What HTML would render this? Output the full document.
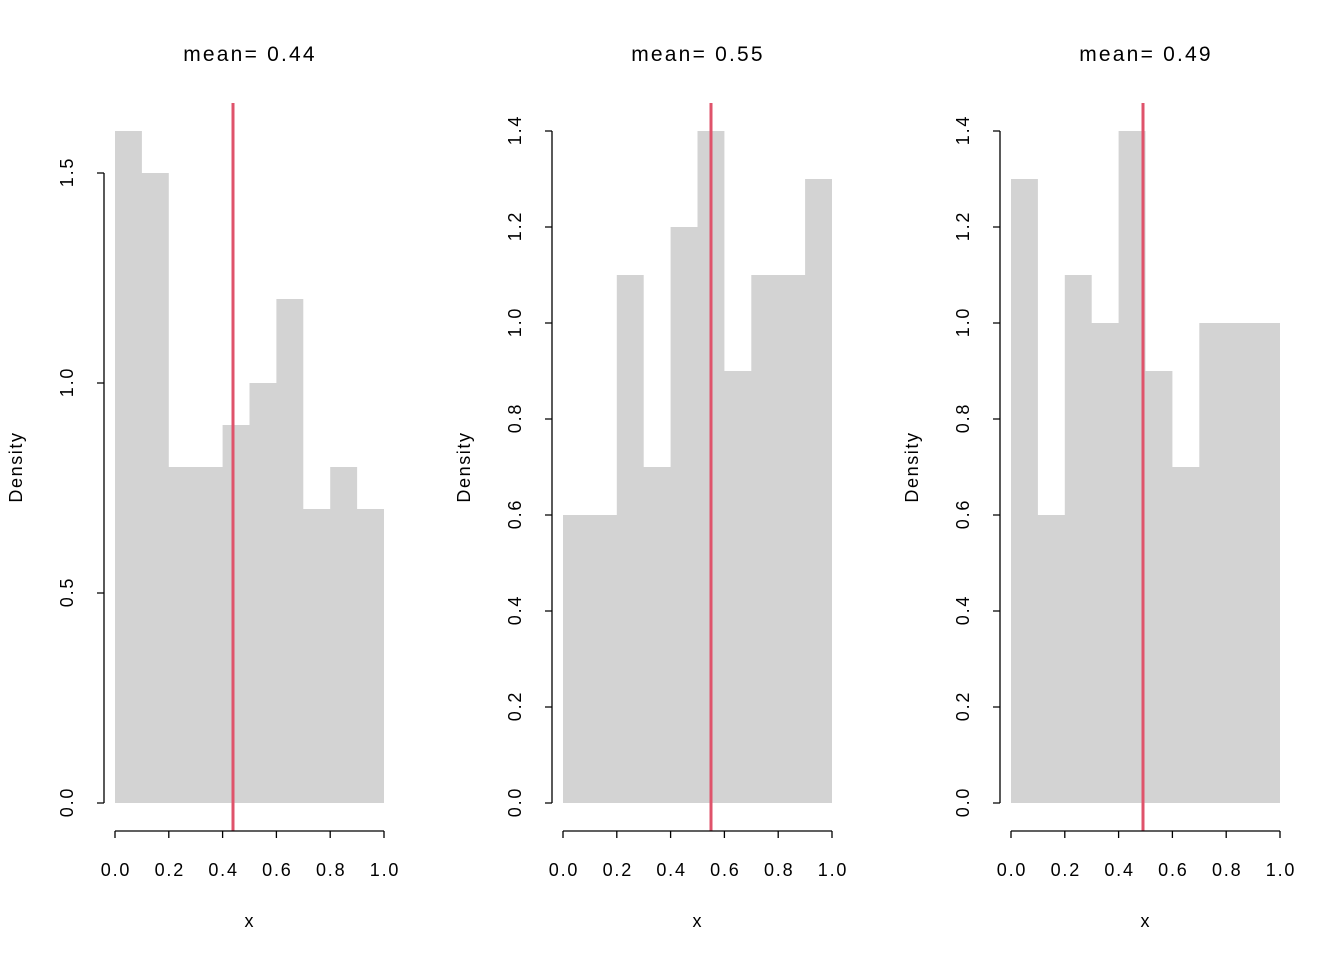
<!DOCTYPE html>
<html><head><meta charset="utf-8"><style>body{margin:0;background:#fff}svg{display:block}text{font-family:"Liberation Sans",Arial,sans-serif;fill:#000}</style></head><body>
<svg width="1344" height="960" viewBox="0 0 1344 960" xmlns="http://www.w3.org/2000/svg">
<defs>
<g id="xax">
<path d="M115 831H384M115 831v7M168.8 831v7M222.6 831v7M276.4 831v7M330.2 831v7M384 831v7" stroke="#000" stroke-width="1.3" fill="none"/>
<g font-size="18" text-anchor="middle" letter-spacing="1.8">
<text x="116" y="876">0.0</text><text x="169.8" y="876">0.2</text><text x="223.6" y="876">0.4</text><text x="277.4" y="876">0.6</text><text x="331.2" y="876">0.8</text><text x="385" y="876">1.0</text>
</g>
<text x="249" y="927" font-size="18" text-anchor="middle">x</text>
<text x="22" y="467" font-size="18" text-anchor="middle" letter-spacing="1.6" transform="rotate(-90 22 467)">Density</text>
</g>
<g id="yax14">
<path d="M104 803V131M104 803h-7M104 707h-7M104 611h-7M104 515h-7M104 419h-7M104 323h-7M104 227h-7M104 131h-7" stroke="#000" stroke-width="1.3" fill="none"/>
<g font-size="18" text-anchor="middle" letter-spacing="1.8">
<text transform="translate(73 802) rotate(-90)">0.0</text>
<text transform="translate(73 706) rotate(-90)">0.2</text>
<text transform="translate(73 610) rotate(-90)">0.4</text>
<text transform="translate(73 514) rotate(-90)">0.6</text>
<text transform="translate(73 418) rotate(-90)">0.8</text>
<text transform="translate(73 322) rotate(-90)">1.0</text>
<text transform="translate(73 226) rotate(-90)">1.2</text>
<text transform="translate(73 130) rotate(-90)">1.4</text>
</g>
</g>
</defs>
<!-- panel 1 -->
<text x="250" y="61" font-size="21" text-anchor="middle" letter-spacing="2.2">mean= 0.44</text>
<path d="M115 803V131H141.9V173H168.8V467H222.6V425H249.5V383H276.4V299H303.3V509H330.2V467H357.1V509H384V803Z" fill="#d3d3d3"/>
<line x1="233" y1="103" x2="233" y2="831" stroke="#df536b" stroke-width="3"/>
<use href="#xax"/>
<path d="M104 803V173M104 803h-7M104 593h-7M104 383h-7M104 173h-7" stroke="#000" stroke-width="1.3" fill="none"/>
<g font-size="18" text-anchor="middle" letter-spacing="1.8">
<text transform="translate(73 802) rotate(-90)">0.0</text>
<text transform="translate(73 592) rotate(-90)">0.5</text>
<text transform="translate(73 382) rotate(-90)">1.0</text>
<text transform="translate(73 172) rotate(-90)">1.5</text>
</g>
<!-- panel 2 -->
<text x="698" y="61" font-size="21" text-anchor="middle" letter-spacing="2.2">mean= 0.55</text>
<path d="M563 803V515H616.8V275H643.7V467H670.6V227H697.5V131H724.4V371H751.3V275H805.1V179H832V803Z" fill="#d3d3d3"/>
<line x1="711" y1="103" x2="711" y2="831" stroke="#df536b" stroke-width="3"/>
<g transform="translate(448 0)"><use href="#xax"/><use href="#yax14"/></g>
<!-- panel 3 -->
<text x="1146" y="61" font-size="21" text-anchor="middle" letter-spacing="2.2">mean= 0.49</text>
<path d="M1011 803V179H1037.9V515H1064.8V275H1091.7V323H1118.6V131H1145.5V371H1172.4V467H1199.3V323H1280V803Z" fill="#d3d3d3"/>
<line x1="1143" y1="103" x2="1143" y2="831" stroke="#df536b" stroke-width="3"/>
<g transform="translate(896 0)"><use href="#xax"/><use href="#yax14"/></g>
</svg>
</body></html>
